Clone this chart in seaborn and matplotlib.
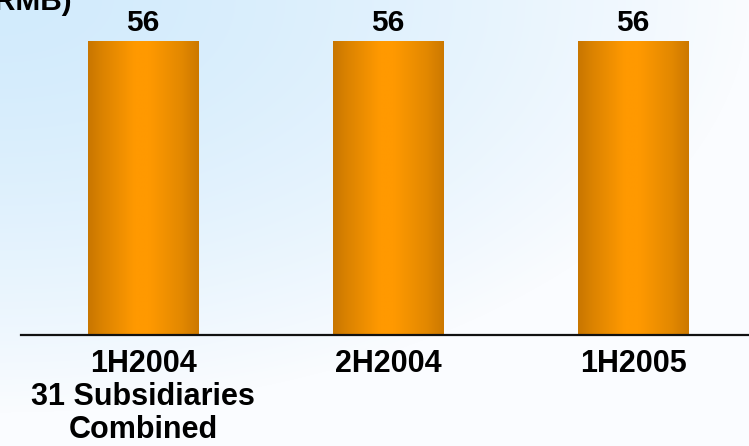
import numpy as np
import pandas as pd
import matplotlib
matplotlib.use("Agg")
import matplotlib.pyplot as plt
import seaborn as sns

# Chart data
periods = ["1H2004\n31 Subsidiaries\nCombined", "2H2004", "1H2005"]
amounts = [56, 56, 56]
unit_label = "(RMB)"

df = pd.DataFrame({"period": periods, "amount": amounts})

sns.set_theme(style="white")
plt.rcParams["font.family"] = ["Liberation Sans", "DejaVu Sans"]

W, H = 749, 446
fig = plt.figure(figsize=(W / 100, H / 100), dpi=100)

# Soft blue backdrop fading to white towards the bottom-right
bg = fig.add_axes([0, 0, 1, 1], zorder=0)
yy, xx = np.mgrid[0:1:H * 1j, 0:1:W * 1j]
r = np.clip(np.sqrt(xx ** 2 + (yy * 1.08) ** 2), 0, 1) ** 1.5
c0 = np.array([210, 235, 252]) / 255
c1 = np.array([250, 252, 255]) / 255
img = c0[None, None, :] + r[..., None] * (c1 - c0)[None, None, :]
bg.imshow(img, aspect="auto", extent=(0, 1, 0, 1), origin="upper")
bg.set_axis_off()

# Main axes, placed in pixel terms
left_px, right_px, bottom_px, top_px = 21, 749, 335, 20
ax = fig.add_axes([left_px / W, 1 - bottom_px / H,
                   (right_px - left_px) / W, (bottom_px - top_px) / H], zorder=1)
ax.patch.set_alpha(0)

sns.barplot(data=df, x="period", y="amount", ax=ax, width=0.449,
            color="#ff9900", edgecolor="none", saturation=1)

xlim = ((left_px - 143) / 245, (right_px - 143) / 245)
ylim = (0, 60)

# Horizontal metallic shading on each bar
stops = np.array([0.0, 0.12, 0.42, 0.55, 0.85, 1.0])
cols = np.array([[200, 118, 0], [218, 130, 0], [255, 153, 0],
                 [255, 153, 0], [226, 136, 0], [204, 120, 0]]) / 255
u = np.linspace(0, 1, 256)
grad = np.stack([np.interp(u, stops, cols[:, k]) for k in range(3)], axis=-1)[None, :, :]
for p in ax.patches:
    x0, y0 = p.get_x(), p.get_y()
    w, h = p.get_width(), p.get_height()
    im = ax.imshow(grad, aspect="auto", extent=(x0, x0 + w, y0, y0 + h),
                   origin="lower", zorder=2, interpolation="bilinear")
    im.set_clip_path(p)
    p.set_facecolor("none")

ax.set_xlim(*xlim)
ax.set_ylim(*ylim)

# Value labels above bars
for i, v in enumerate(amounts):
    ax.annotate(str(v), xy=(i, v), xytext=(0, 7.2), textcoords="offset points",
                ha="center", va="baseline", fontsize=21.5, fontweight="bold",
                color="black", zorder=3)

# Axis styling
for s in ["top", "right", "left"]:
    ax.spines[s].set_visible(False)
ax.spines["bottom"].set_color("#111111")
ax.spines["bottom"].set_linewidth(1.6)
ax.spines["bottom"].set_zorder(4)
ax.set_yticks([])
ax.set_xlabel("")
ax.set_ylabel("")
ax.tick_params(axis="x", length=0, pad=10)
ax.set_xticks(range(len(periods)))
ax.set_xticklabels(periods, fontsize=22, fontweight="bold", color="black",
                   linespacing=1.14)

# Unit note at the top-left corner
fig.text(72 / W, 1 - 10 / H, unit_label, ha="right", va="baseline",
         fontsize=21.5, fontweight="bold", color="black")

fig.savefig("out.png", dpi=100)
